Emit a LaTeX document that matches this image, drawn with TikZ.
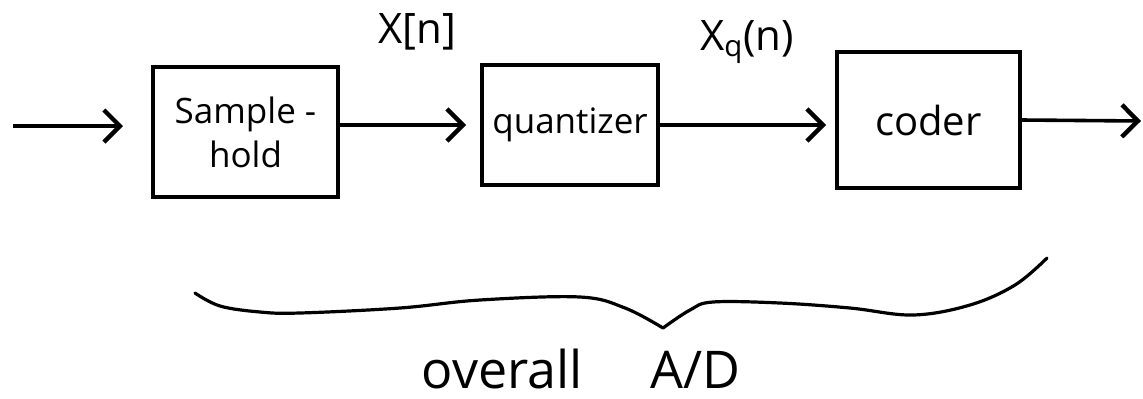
\documentclass[tikz,border=0pt]{standalone}
\usepackage{fontspec}
\setmainfont{Open Sans}
\usetikzlibrary{arrows.meta}
\begin{document}
\begin{tikzpicture}[x=0.5pt,y=-0.5pt,
  blockbox/.style={draw, line width=2pt, rectangle, inner sep=0pt,
    font=\fontsize{17.5}{22}\selectfont, align=center},
  flow/.style={line width=1.8pt,
    -{Straight Barb[length=8pt,width=16pt,line width=2.2pt]}},
  sig/.style={font=\fontsize{21}{24}\selectfont, anchor=base},
  brace/.style={line width=1.6pt, line join=round, line cap=round},
  note/.style={font=\fontsize{26}{30}\selectfont, anchor=base, inner sep=0pt}]
\useasboundingbox (0,0) rectangle (1143,398);

% processing blocks
\node[blockbox, minimum width=92.5pt, minimum height=65pt] (sh) at (245.5,132) {Sample -\\hold};
\node[blockbox, minimum width=88pt, minimum height=60pt] (q) at (570,125) {quantizer};
\node[blockbox, minimum width=91.5pt, minimum height=68pt,
  font=\fontsize{20}{24}\selectfont] (c) at (928.5,120) {coder};

% signal names
\node[sig] (xn) at (417,43) {X[n]};
\node[sig] (xq) at (747,50) {X\textsubscript{q}(n)};

% signal flow
\coordinate (in) at (13,126);
\coordinate (out) at (1141,121);
\draw[flow, shorten >=14pt] (in) -- (in -| sh.west);
\draw[flow, shorten >=7pt] (sh.east |- q.west) -- (q.west);
\draw[flow, shorten >=4.5pt] (q.east) -- (q.east -| c.west);
\draw[flow] (c.east) -- (out);

% brace under the chain
\draw[brace] plot[smooth, tension=0.6] coordinates {(195,293) (220,306) (260,312) (300,313) (400,308) (480,300) (580,297) (625,308) (663,328)};
\draw[brace] plot[smooth, tension=0.6] coordinates {(663,328) (690,310) (713,302) (780,303) (850,308) (913,315) (970,305) (1015,285) (1047,258)};

\node[note] (ad) at (581,388) {overall\hspace{1.3em}A/D};
\end{tikzpicture}
\end{document}
